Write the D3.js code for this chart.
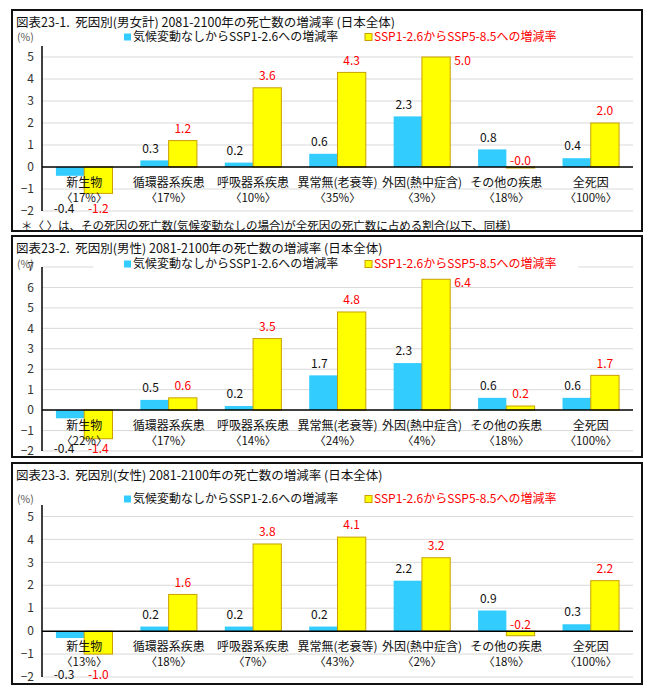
<!DOCTYPE html>
<html>
<head>
<meta charset="utf-8">
<script src="https://cdn.jsdelivr.net/npm/d3@7"></script>
<style>
  body { margin: 0; background: #fff; }
  svg { display: block; font-family: "Noto Sans CJK JP", "Noto Sans", sans-serif; }
</style>
</head>
<body>
<div id="chart"></div>
<script>
// data
const categories = ["新生物", "循環器系疾患", "呼吸器系疾患", "異常無(老衰等)", "外因(熱中症含)", "その他の疾患", "全死因"];
const seriesNames = ["気候変動なしからSSP1-2.6への増減率", "SSP1-2.6からSSP5-8.5への増減率"];
const titles = [
  "図表23-1.  死因別(男女計) 2081-2100年の死亡数の増減率 (日本全体)",
  "図表23-2.  死因別(男性) 2081-2100年の死亡数の増減率 (日本全体)",
  "図表23-3.  死因別(女性) 2081-2100年の死亡数の増減率 (日本全体)",
];
// 気候変動なし -> SSP1-2.6
const baseToSsp126Total = [-0.4, 0.3, 0.2, 0.6, 2.3, 0.8, 0.4];
const baseToSsp126Male = [-0.4, 0.5, 0.2, 1.7, 2.3, 0.6, 0.6];
const baseToSsp126Female = [-0.3, 0.2, 0.2, 0.2, 2.2, 0.9, 0.3];
// SSP1-2.6 -> SSP5-8.5
const ssp126ToSsp585Total = [-1.2, 1.2, 3.6, 4.3, 5.0, -0.03, 2.0];
const ssp126ToSsp585Male = [-1.4, 0.6, 3.5, 4.8, 6.4, 0.2, 1.7];
const ssp126ToSsp585Female = [-1.0, 1.6, 3.8, 4.1, 3.2, -0.2, 2.2];
// share of deaths (no climate change case)
const shareTotal = ["17%", "17%", "10%", "35%", "3%", "18%", "100%"];
const shareMale = ["22%", "17%", "14%", "24%", "4%", "18%", "100%"];
const shareFemale = ["13%", "18%", "7%", "43%", "2%", "18%", "100%"];
const axisMin = -2;
const axisMax = [5.5, 7, 5.5];
const footnote = "＊〈 〉は、その死因の死亡数(気候変動なしの場合)が全死因の死亡数に占める割合(以下、同様)";

const panels = [
  { title: titles[0], blue: baseToSsp126Total, yellow: ssp126ToSsp585Total, share: shareTotal, max: axisMax[0], note: footnote },
  { title: titles[1], blue: baseToSsp126Male, yellow: ssp126ToSsp585Male, share: shareMale, max: axisMax[1] },
  { title: titles[2], blue: baseToSsp126Female, yellow: ssp126ToSsp585Female, share: shareFemale, max: axisMax[2] },
];

//size
const width = 655;
const height = 697;
const layout = [
  { box: [12, 10, 630, 221], titleY: 23, legendY: 37, range: [211, 46], noteY: 226 },
  { box: [12, 236, 630, 221], titleY: 249, legendY: 264, range: [451, 267] },
  { box: [12, 463, 630, 221], titleY: 476, legendY: 499, range: [677, 505] },
];
const plotLeft = 42;
const plotRight = 633;

const blueColor = "#33ccff";
const yellowColor = "#ffff00";
const yellowStroke = "#c9a000";
const redText = "#ff0000";

const svg = d3
  .select("#chart")
  .append("svg")
  .attr("width", width)
  .attr("height", height)
  .attr("viewBox", [0, 0, width, height]);

svg.append("rect").attr("width", width).attr("height", height).attr("fill", "#fff");

const xScale = d3
  .scaleBand()
  .domain(categories)
  .range([plotLeft, plotRight])
  .paddingInner(0.33)
  .paddingOuter(0.165);

const seriesScale = d3.scaleBand().domain([0, 1]).range([0, xScale.bandwidth()]);

panels.forEach((p, pi) => {
  const lay = layout[pi];
  const g = svg.append("g");

  const yScale = d3.scaleLinear().domain([axisMin, p.max]).range(lay.range);
  const ticks = d3.range(axisMin, Math.floor(p.max) + 1);

  //frame
  g.append("rect")
    .attr("x", lay.box[0])
    .attr("y", lay.box[1])
    .attr("width", lay.box[2])
    .attr("height", lay.box[3])
    .attr("fill", "none")
    .attr("stroke", "#111")
    .attr("stroke-width", 2);

  //title
  g.append("text")
    .attr("x", 16)
    .attr("y", lay.titleY)
    .attr("dy", "0.35em")
    .attr("font-size", 12.5)
    .attr("fill", "#111")
    .attr("xml:space", "preserve")
    .style("white-space", "pre")
    .text(p.title);

  //grid
  g.selectAll("line.grid")
    .data(ticks.filter((t) => t !== 0))
    .join("line")
    .attr("class", "grid")
    .attr("x1", plotLeft)
    .attr("x2", plotRight)
    .attr("y1", (d) => yScale(d))
    .attr("y2", (d) => yScale(d))
    .attr("stroke", "#d9d9d9")
    .attr("stroke-width", 1);

  //y tick labels
  g.selectAll("text.tick")
    .data(ticks)
    .join("text")
    .attr("class", "tick")
    .attr("x", 34)
    .attr("y", (d) => yScale(d))
    .attr("dy", "0.35em")
    .attr("text-anchor", "end")
    .attr("font-size", 12)
    .attr("fill", "#333")
    .text((d) => d3.format("d")(d));

  //bars
  const rows = categories.map((c, i) => ({ cat: c, i, values: [p.blue[i], p.yellow[i]] }));
  const groups = g
    .selectAll("g.cat")
    .data(rows)
    .join("g")
    .attr("class", "cat")
    .attr("transform", (d) => `translate(${xScale(d.cat)},0)`);

  groups
    .selectAll("rect")
    .data((d) => d.values.map((v, s) => ({ v, s, i: d.i })))
    .join("rect")
    .attr("x", (d) => seriesScale(d.s))
    .attr("width", seriesScale.bandwidth())
    .attr("y", (d) => yScale(Math.max(d.v, 0)))
    .attr("height", (d) => Math.max(Math.abs(yScale(d.v) - yScale(0)), 1))
    .attr("fill", (d) => (d.s === 0 ? blueColor : yellowColor))
    .attr("stroke", (d) => (d.s === 0 ? "none" : yellowStroke))
    .attr("stroke-width", 1);

  //value labels
  groups
    .selectAll("text.value")
    .data((d) => d.values.map((v, s) => ({ v, s, i: d.i })))
    .join("text")
    .attr("class", "value")
    .attr("font-size", 12)
    .attr("dy", "0.35em")
    .attr("fill", (d) => (d.s === 0 ? "#111" : redText))
    .each(function (d) {
      const left = seriesScale(d.s);
      const bw = seriesScale.bandwidth();
      let x = left + bw / 2 + (d.s === 0 ? -4 : 0);
      let y;
      let anchor = "middle";
      if (d.v < 0 && d.i === 0) {
        y = yScale(axisMin) - 2;
        if (d.s === 0) x -= 2;
      } else if (d.v < 0) {
        y = yScale(0) - 6;
      } else {
        const top = yScale(d.v);
        if (top - 19 < yScale(p.max)) {
          x = left + bw + 4;
          anchor = "start";
          y = top + 4;
        } else {
          y = top - 12;
        }
      }
      d3.select(this).attr("x", x).attr("y", y).attr("text-anchor", anchor);
    })
    .text((d) => d.v.toFixed(1));

  //axes lines
  g.append("line")
    .attr("x1", plotLeft)
    .attr("x2", plotRight)
    .attr("y1", yScale(0))
    .attr("y2", yScale(0))
    .attr("stroke", "#000")
    .attr("stroke-width", 1.5);

  g.append("line")
    .attr("x1", plotLeft)
    .attr("x2", plotLeft)
    .attr("y1", yScale(p.max))
    .attr("y2", yScale(axisMin))
    .attr("stroke", "#000")
    .attr("stroke-width", 1.5);

  //category labels
  groups
    .append("text")
    .attr("x", xScale.bandwidth() / 2)
    .attr("y", yScale(0) + 16)
    .attr("dy", "0.35em")
    .attr("text-anchor", "middle")
    .attr("font-size", 12)
    .attr("fill", "#111")
    .text((d) => d.cat);

  groups
    .append("text")
    .attr("x", xScale.bandwidth() / 2)
    .attr("y", yScale(0) + 31)
    .attr("dy", "0.35em")
    .attr("text-anchor", "middle")
    .attr("font-size", 11.5)
    .attr("fill", "#111")
    .text((d) => `〈${p.share[d.i]}〉`);

  //legend
  const lg = g.append("g").attr("transform", `translate(0,${lay.legendY})`);
  lg.append("rect").attr("x", 93).attr("y", -8).attr("width", 485).attr("height", 16).attr("fill", "#fff");
  lg.append("rect").attr("x", 124).attr("y", -3.5).attr("width", 7).attr("height", 7).attr("fill", blueColor);
  lg.append("text")
    .attr("x", 133)
    .attr("dy", "0.35em")
    .attr("font-size", 12)
    .attr("fill", "#111")
    .text(seriesNames[0]);
  lg.append("rect")
    .attr("x", 365)
    .attr("y", -3.5)
    .attr("width", 7)
    .attr("height", 7)
    .attr("fill", yellowColor)
    .attr("stroke", yellowStroke);
  lg.append("text")
    .attr("x", 374)
    .attr("dy", "0.35em")
    .attr("font-size", 12)
    .attr("fill", redText)
    .text(seriesNames[1]);

  g.append("text")
    .attr("x", 17)
    .attr("y", lay.legendY)
    .attr("dy", "0.35em")
    .attr("font-size", 10.5)
    .attr("fill", "#555")
    .text("(%)");

  //footnote
  if (p.note) {
    g.append("text")
      .attr("x", 21)
      .attr("y", lay.noteY)
      .attr("dy", "0.35em")
      .attr("font-size", 11.5)
      .attr("fill", "#111")
      .text(p.note);
  }
});
</script>
</body>
</html>
